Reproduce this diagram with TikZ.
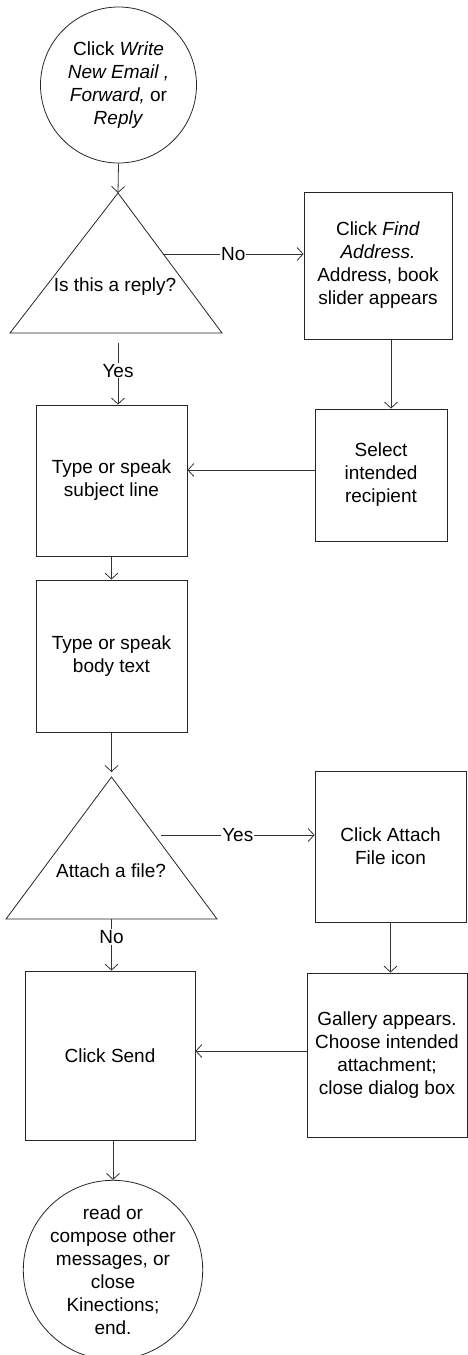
\documentclass[tikz,border=0pt]{standalone}
\usepackage{fontspec}
\setmainfont{Liberation Sans}
\usetikzlibrary{arrows.meta,calc}
\begin{document}
\begin{tikzpicture}[x=1pt,y=-1pt,
  lbl/.style={font=\fontsize{19}{23}\selectfont},
  stepbox/.style={draw=black!85,line width=0.8pt,rectangle,inner sep=0pt,align=center,lbl},
  termcirc/.style={draw=black!85,line width=0.8pt,circle,inner sep=0pt,align=center,lbl},
  tri/.style={draw=black!85,line width=0.8pt,line join=miter},
  arr/.style={draw=black!80,line width=0.8pt,-{Straight Barb[length=6pt,width=13pt,line width=0.8pt]}},
  edgelbl/.style={lbl,fill=white,inner sep=1pt}]
\useasboundingbox (0,0) rectangle (467,1355);

% start circle
\node[termcirc,minimum size=156pt] (start) at (118.5,85)
  {Click \textit{Write}\\\textit{New Email ,}\\\textit{Forward,} or\\\textit{Reply}};

% decision 1
\coordinate (t1apex) at (118,193);
\coordinate (t1left) at (10,333);
\coordinate (t1right) at (222,333);
\draw[tri] (t1apex) -- (t1left) -- (t1right) -- cycle;
\node[lbl] (q1) at (115,287) {Is this a reply?};
\coordinate (t1no) at (163,254);
\coordinate (t1yes) at (118,343);

% boxes
\node[stepbox,minimum width=148pt,minimum height=147pt] (find) at (378,265.5)
  {Click \textit{Find}\\\textit{Address.}\\Address, book\\slider appears};
\node[stepbox,minimum width=132pt,minimum height=132pt] (select) at (381,475)
  {Select\\intended\\recipient};
\node[stepbox,minimum width=151pt,minimum height=151pt] (subj) at (111.5,480.5)
  {Type or speak\\subject line};
\node[stepbox,minimum width=151pt,minimum height=152pt] (body) at (111.5,656)
  {Type or speak\\body text};

% decision 2
\coordinate (t2apex) at (111.5,777);
\coordinate (t2left) at (6,919);
\coordinate (t2right) at (217,919);
\draw[tri] (t2apex) -- (t2left) -- (t2right) -- cycle;
\node[lbl] (q2) at (111,871) {Attach a file?};
\coordinate (t2yes) at (161,835);
\coordinate (t2no) at (111.5,919);

\node[stepbox,minimum width=151pt,minimum height=151pt] (attach) at (390.5,846.5)
  {Click Attach\\File icon};
\node[stepbox,minimum width=160pt,minimum height=164pt] (gallery) at (387,1055)
  {Gallery appears.\\Choose intended\\attachment;\\close dialog box};
\node[stepbox,minimum width=170pt,minimum height=169pt] (send) at (110,1055.5)
  {Click Send};
\node[termcirc,minimum size=178pt] (end) at (113,1270)
  {read or\\compose other\\messages, or\\close\\Kinections;\\end.};

% connectors
\draw[arr] (start.south) -- (t1apex);
\draw[arr] (t1no) -- node[edgelbl] (lno1) {No} (t1no -| find.west);
\draw[arr] ([xshift=13pt]find.south) -- ([xshift=13pt]find.south |- select.north);
\draw[arr] ([yshift=5pt]select.west) -- ([yshift=5pt]select.west -| subj.east);
\draw[arr] (t1yes) -- node[edgelbl,pos=0.45] (lyes1) {Yes} (t1yes |- subj.north);
\draw[arr] (subj.south) -- (body.north);
\draw[arr] (body.south) -- ([yshift=5pt]t2apex);
\draw[arr] (t2yes) -- node[edgelbl] (lyes2) {Yes} (t2yes -| attach.west);
\draw[arr] (attach.south) -- (attach.south |- gallery.north);
\draw[arr] ([yshift=4pt]gallery.west) -- ([yshift=4pt]gallery.west -| send.east);
\draw[arr] (t2no) -- node[edgelbl,pos=0.35] (lno2) {No} (t2no |- send.north);
\draw[arr] (send.south -| end.north) -- (end.north);
\end{tikzpicture}
\end{document}
